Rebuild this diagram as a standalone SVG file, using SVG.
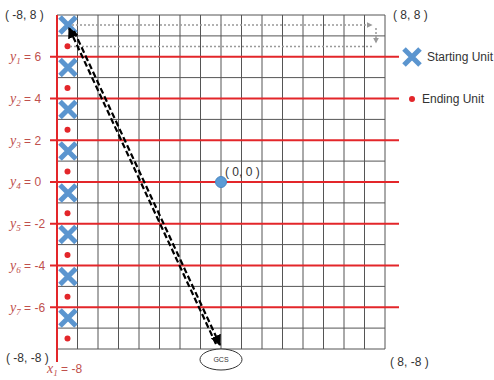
<svg xmlns="http://www.w3.org/2000/svg" width="494" height="380" viewBox="0 0 494 380">
<defs>
<style>
.grid line{stroke:#555;stroke-width:1}
.red{stroke:#e3262a;stroke-width:2}
.lbl{font-family:"Liberation Sans",Arial,sans-serif;font-size:12px;fill:#c0504d}
.yv{font-family:"Liberation Serif",serif;font-style:italic;font-size:14px}
.sub{font-family:"Liberation Serif",serif;font-style:italic;font-size:9px}
.coord{font-family:"Liberation Sans",Arial,sans-serif;font-size:12px;fill:#333}
.leg{font-family:"Liberation Sans",Arial,sans-serif;font-size:12px;fill:#333}
.dot{fill:#e3262a}
.dotted{stroke:#999;stroke-width:1.5;stroke-dasharray:2 2;fill:none}
.dash{stroke:#000;stroke-width:2.2;stroke-dasharray:6 3;fill:none}
</style>
<marker id="ah" viewBox="0 0 10 10" refX="9" refY="5" markerWidth="5" markerHeight="5" orient="auto-start-reverse"><path d="M0,0 L10,5 L0,10 z" fill="#000"/></marker>
<marker id="gah" viewBox="0 0 10 10" refX="9" refY="5" markerWidth="4" markerHeight="4" orient="auto"><path d="M0,0 L10,5 L0,10 z" fill="#999"/></marker>
<symbol id="cross" viewBox="0 0 20 20" overflow="visible"><path d="M2,2 L18,18 M18,2 L2,18" stroke="#5b95cf" stroke-width="5" fill="none"/></symbol>
</defs>
<rect width="494" height="380" fill="#fff"/>
<g class="grid" id="grid">
<line x1="77.5" y1="15" x2="77.5" y2="349"/><line x1="98" y1="15" x2="98" y2="349"/><line x1="118.5" y1="15" x2="118.5" y2="349"/><line x1="139" y1="15" x2="139" y2="349"/><line x1="159.5" y1="15" x2="159.5" y2="349"/><line x1="180" y1="15" x2="180" y2="349"/><line x1="200.5" y1="15" x2="200.5" y2="349"/><line x1="221" y1="15" x2="221" y2="349"/><line x1="241.5" y1="15" x2="241.5" y2="349"/><line x1="262" y1="15" x2="262" y2="349"/><line x1="282.5" y1="15" x2="282.5" y2="349"/><line x1="303" y1="15" x2="303" y2="349"/><line x1="323.5" y1="15" x2="323.5" y2="349"/><line x1="344" y1="15" x2="344" y2="349"/><line x1="364.5" y1="15" x2="364.5" y2="349"/><line x1="385" y1="15" x2="385" y2="349"/>
<line x1="57" y1="15" x2="385" y2="15"/><line x1="57" y1="35.9" x2="385" y2="35.9"/><line x1="57" y1="77.6" x2="385" y2="77.6"/><line x1="57" y1="119.4" x2="385" y2="119.4"/><line x1="57" y1="161.1" x2="385" y2="161.1"/><line x1="57" y1="202.9" x2="385" y2="202.9"/><line x1="57" y1="244.6" x2="385" y2="244.6"/><line x1="57" y1="286.4" x2="385" y2="286.4"/><line x1="57" y1="328.1" x2="385" y2="328.1"/><line x1="57" y1="349" x2="385" y2="349"/>
</g>
<g id="red-lines">
<line class="red" x1="57" y1="15" x2="57" y2="362"/>
<line class="red" x1="50" y1="56.8" x2="399" y2="56.8"/>
<line class="red" x1="50" y1="98.5" x2="399" y2="98.5"/>
<line class="red" x1="50" y1="140.3" x2="399" y2="140.3"/>
<line class="red" x1="50" y1="182" x2="399" y2="182"/>
<line class="red" x1="50" y1="223.8" x2="399" y2="223.8"/>
<line class="red" x1="50" y1="265.5" x2="399" y2="265.5"/>
<line class="red" x1="50" y1="307.3" x2="399" y2="307.3"/>
</g>
<g id="labels" class="lbl">
<text x="10" y="61"><tspan class="yv">y</tspan><tspan class="sub" dy="3">1</tspan><tspan dy="-3"> = 6</tspan></text>
<text x="10" y="103"><tspan class="yv">y</tspan><tspan class="sub" dy="3">2</tspan><tspan dy="-3"> = 4</tspan></text>
<text x="10" y="145"><tspan class="yv">y</tspan><tspan class="sub" dy="3">3</tspan><tspan dy="-3"> = 2</tspan></text>
<text x="10" y="186"><tspan class="yv">y</tspan><tspan class="sub" dy="3">4</tspan><tspan dy="-3"> = 0</tspan></text>
<text x="10" y="228"><tspan class="yv">y</tspan><tspan class="sub" dy="3">5</tspan><tspan dy="-3"> = -2</tspan></text>
<text x="10" y="270"><tspan class="yv">y</tspan><tspan class="sub" dy="3">6</tspan><tspan dy="-3"> = -4</tspan></text>
<text x="10" y="312"><tspan class="yv">y</tspan><tspan class="sub" dy="3">7</tspan><tspan dy="-3"> = -6</tspan></text>
<text x="47" y="373"><tspan class="yv">x</tspan><tspan class="sub" dy="3">1</tspan><tspan dy="-3"> = -8</tspan></text>
</g>
<g id="coords" class="coord">
<text x="5" y="19">( -8, 8 )</text>
<text x="393" y="19">( 8, 8 )</text>
<text x="6" y="362">( -8, -8 )</text>
<text x="390" y="366">( 8, -8 )</text>
<text x="225" y="176">( 0, 0 )</text>
</g>
<g id="starting-units">
<use href="#cross" x="58" y="15" width="20" height="20"/>
<use href="#cross" x="58" y="57.5" width="20" height="20"/>
<use href="#cross" x="58" y="99.5" width="20" height="20"/>
<use href="#cross" x="58" y="141" width="20" height="20"/>
<use href="#cross" x="58" y="183" width="20" height="20"/>
<use href="#cross" x="58" y="224.5" width="20" height="20"/>
<use href="#cross" x="58" y="266.5" width="20" height="20"/>
<use href="#cross" x="58" y="308" width="20" height="20"/>
</g>
<g id="ending-units">
<circle class="dot" cx="67.5" cy="46.3" r="3"/>
<circle class="dot" cx="67.5" cy="88" r="3"/>
<circle class="dot" cx="67.5" cy="129.8" r="3"/>
<circle class="dot" cx="67.5" cy="171.5" r="3"/>
<circle class="dot" cx="67.5" cy="213.3" r="3"/>
<circle class="dot" cx="67.5" cy="255" r="3"/>
<circle class="dot" cx="67.5" cy="296.8" r="3"/>
<circle class="dot" cx="67.5" cy="338.5" r="3"/>
</g>
<g id="origin">
<circle cx="221" cy="182" r="5.5" fill="#5b9bd5" stroke="#4a86c0" stroke-width="1"/>
</g>
<g id="legend">
<use href="#cross" x="402" y="47" width="20" height="20"/>
<text class="leg" x="427" y="61">Starting Unit</text>
<circle class="dot" cx="412" cy="99" r="3"/>
<text class="leg" x="422" y="103">Ending Unit</text>
</g>
<g id="gcs">
<ellipse cx="221" cy="359.5" rx="21" ry="10.5" fill="#fff" stroke="#333" stroke-width="1"/>
<text x="221" y="362" text-anchor="middle" font-family="Liberation Sans,Arial,sans-serif" font-size="7" fill="#333">GCS</text>
</g>
<g id="connectors">
<path class="dotted" d="M72,25 H372" marker-end="url(#gah)"/>
<path class="dotted" d="M376,28 V43" marker-end="url(#gah)"/>
<path class="dotted" d="M70,46.5 H373"/>
<path class="dash" d="M216,344 L69,28" marker-end="url(#ah)"/>
<path class="dash" d="M74,31 L220,345" marker-end="url(#ah)"/>
</g>
</svg>
